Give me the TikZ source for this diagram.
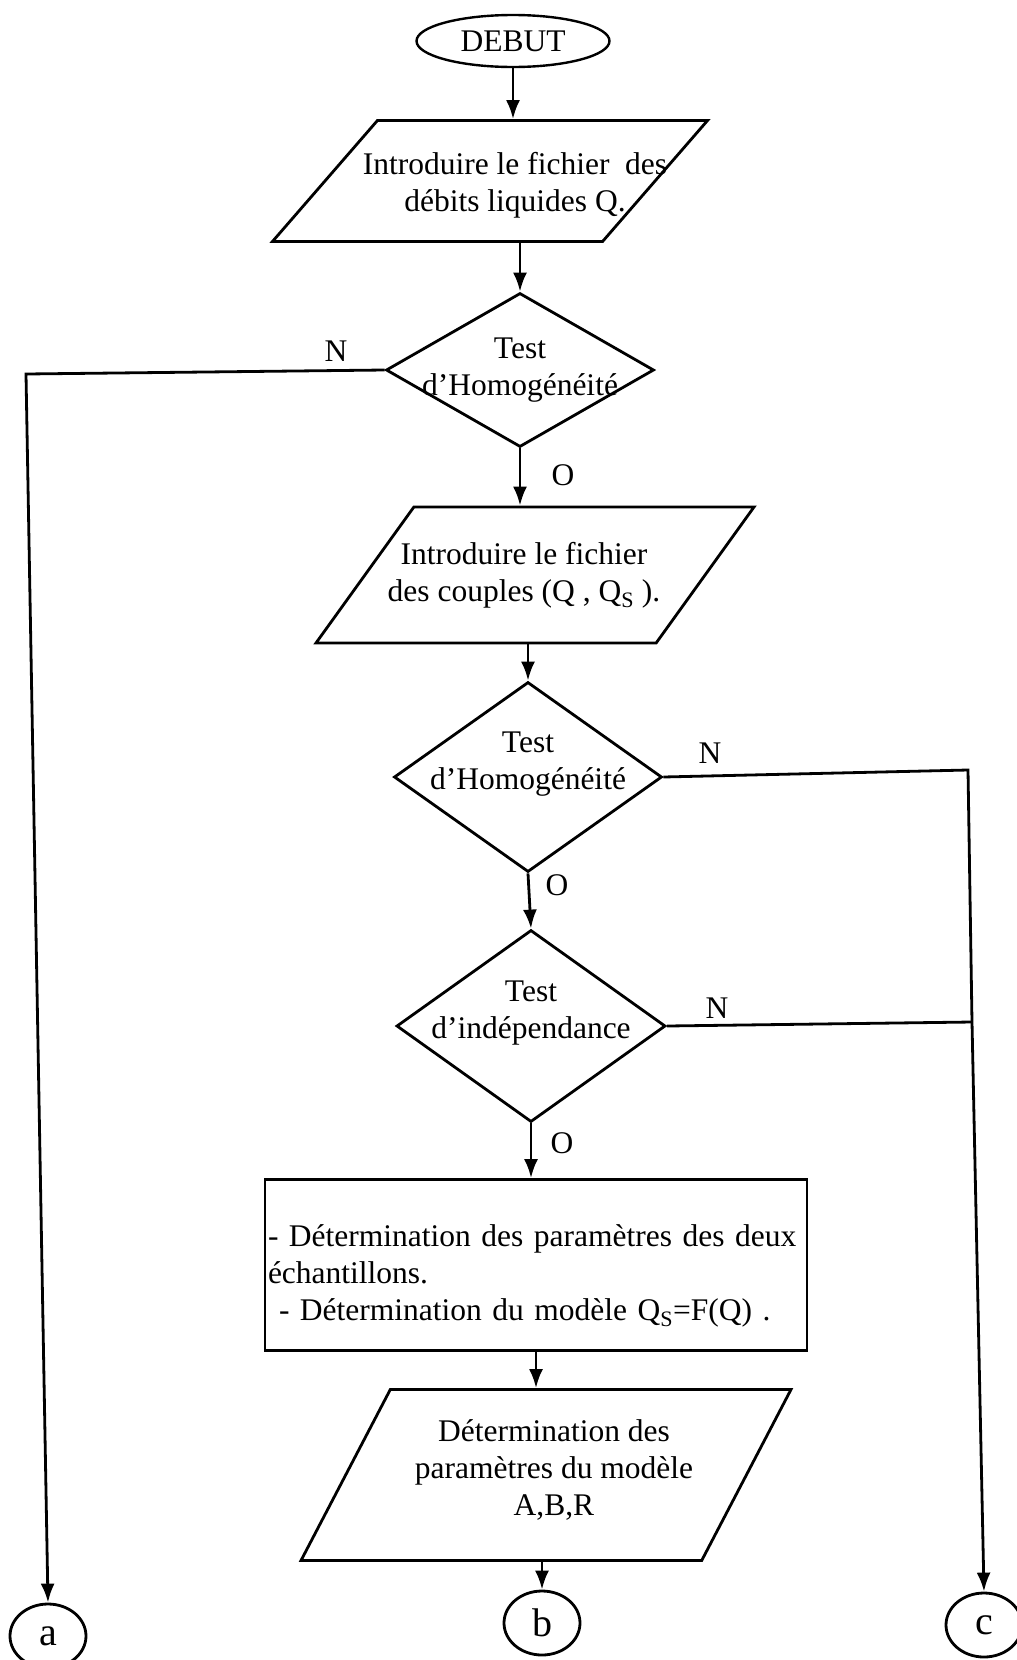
\documentclass[tikz,border=0pt]{standalone}
\usepackage{fontspec}
\setmainfont{Liberation Serif}
\usetikzlibrary{shapes,arrows.meta}
\begin{document}
\begin{tikzpicture}[x=1pt,y=-1pt,font=\fontsize{31.5}{37}\selectfont,
        trait/.style={line width=2.8pt},
        fleche/.style={trait,-{Latex[length=19pt,width=14pt]}},
        entree/.style={trapezium,draw,trait,trapezium stretches=true,inner sep=1pt},
        test/.style={diamond,draw,trait,inner sep=1pt,minimum width=268pt},
        renvoi/.style={ellipse,draw,trait,minimum width=76pt,minimum height=64pt,inner sep=0pt,font=\fontsize{40}{44}\selectfont}]
                \useasboundingbox (0,0) rectangle (1017,1660);
                \node[ellipse,draw,line width=2.4pt,minimum width=193pt,minimum height=52pt,inner sep=0pt] (debut) at (513,41) {DEBUT};
                \node[entree,trapezium left angle=65,trapezium right angle=115,minimum width=435pt,minimum height=121pt,
                    label={[align=center,xshift=25pt,yshift=-4pt]center:Introduire le fichier\ \ des\\débits liquides Q.}] (p1) at (490,181) {};
                \node[test,minimum height=154pt,label={[align=center]center:Test\\d’Homogénéité}] (d1) at (520,370) {};
                \node[entree,trapezium left angle=68,trapezium right angle=112,minimum width=438pt,minimum height=136pt,
                    label={[align=center,xshift=-11pt]center:{Introduire le fichier\\des couples (Q , Q\textsubscript{S} ).}}] (p2) at (535,575) {};
                \node[test,minimum height=190pt,label={[align=center,yshift=13pt]center:Test\\d’Homogénéité}] (d2) at (528,777) {};
                \node[test,minimum width=269pt,minimum height=192pt,label={[align=center,yshift=13pt]center:Test\\d’indépendance}] (d3) at (531,1026) {};
                \node[draw,trait,text width=536pt,inner sep=3pt,minimum height=171pt,align=left] (calcul) at (536,1265)
                    {\rule{0pt}{43pt}\makebox[536pt][s]{- Détermination des paramètres des deux}\\échantillons.\\\hspace*{11pt}- Détermination du modèle Q\textsubscript{S}=F(Q) .};
                \node[entree,trapezium left angle=74,trapezium right angle=106,minimum width=490pt,minimum height=171pt,
                    label={[align=center,xshift=8pt,yshift=5pt]center:{Détermination des\\paramètres du modèle\\A,B,R}}] (p3) at (546,1475) {};
                \node[renvoi] (a) at (48,1636) {a};
                \node[renvoi] (b) at (542,1623) {b};
                \node[renvoi] (c) at (984,1625) {c};
                \node (n1) at (336,351) {N};
                \node (o1) at (563,475) {O};
                \node (n2) at (710,753) {N};
                \node (o2) at (557,885) {O};
                \node (n3) at (717,1008) {N};
                \node (o3) at (562,1143) {O};
                \coordinate (ka) at (26,374);
                \coordinate (kc) at (968,770);
                \coordinate (kj) at (972,1022);
                \draw[fleche] (debut.south) -- (debut.south |- p1.north);
                \draw[fleche] (d1.north |- p1.south) -- (d1.north);
                \draw[fleche] (d1.south) -- (d1.south |- p2.north);
                \draw[fleche] (d2.north |- p2.south) -- (d2.north);
                \draw[fleche] (d2.south) -- (d3.north);
                \draw[fleche] (d3.south) -- (d3.south |- calcul.north);
                \draw[fleche] (calcul.south) -- (calcul.south |- p3.north);
                \draw[fleche] (b.north |- p3.south) -- (b.north);
                \draw[fleche] (d1.west) -- (ka) -- (a.north);
                \draw[fleche] (d2.east) -- (kc) -- (kj) -- (c.north);
                \draw[trait] (d3.east) -- (kj);
            \end{tikzpicture}
\end{document}
